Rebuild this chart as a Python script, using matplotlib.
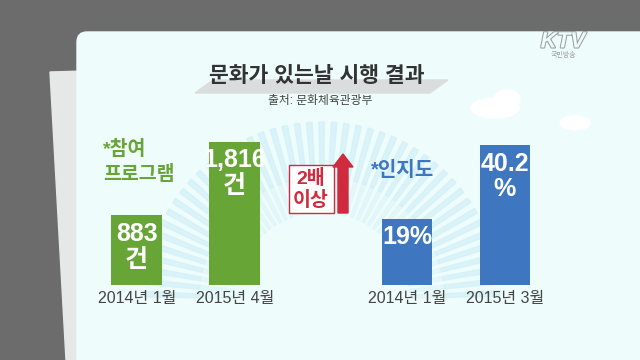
import numpy as np
import matplotlib.pyplot as plt
from matplotlib.patches import Polygon, FancyBboxPatch, Wedge, Ellipse
import matplotlib.patheffects as pe

plt.rcParams['font.family'] = ['Liberation Sans', 'Noto Sans CJK KR']

# 데이터
title = '문화가 있는날 시행 결과'
source = '출처: 문화체육관광부'

prog_labels = ['2014년 1월', '2015년 4월']
prog_values = [883, 1816]
prog_text = ['883\n건', '1,816\n건']

aware_labels = ['2014년 1월', '2015년 3월']
aware_values = [19, 40.2]
aware_text = ['19%', '40.2\n%']

green = '#67a536'
blue = '#3e76c0'
red = '#cf2a3e'

fig = plt.figure(figsize=(6.4, 3.6), dpi=100)

# 배경 (픽셀 좌표)
bg = fig.add_axes([0, 0, 1, 1])
bg.set_xlim(0, 640)
bg.set_ylim(360, 0)
bg.axis('off')
bg.add_patch(plt.Rectangle((0, 0), 640, 360, color='#6c6c6c', zorder=0))
bg.add_patch(Polygon([(50, 72), (120, 70), (140, 360), (66, 360)], color='#e6e8e8', zorder=1))
bg.add_patch(FancyBboxPatch((77, 32), 600, 400, boxstyle='round,pad=0,rounding_size=10',
                            color='#eefcfc', zorder=2))

# 햇살 무늬 (y축이 뒤집혀 있으므로 180~360도가 위쪽)
cx, cy = 322, 300
for i in range(45):
    a0 = 181 + i * 4
    bg.add_patch(Wedge((cx, cy), 178, a0, a0 + 1.8, width=55, color='#d3f1f8',
                       alpha=0.75, zorder=3))
    bg.add_patch(Wedge((cx, cy), 123, a0, a0 + 1.8, width=35, color='#d3f1f8',
                       alpha=0.35, zorder=3))

# 구름
for (x, y, w, h) in [(495, 108, 48, 20), (507, 99, 26, 18), (575, 123, 30, 14)]:
    bg.add_patch(Ellipse((x, y), w, h, color='white', zorder=3))

# KTV 로고
bg.text(563, 42, 'KTV', fontsize=16, style='italic', fontweight='bold', color='#eefcfc',
        ha='center', va='center', zorder=5,
        path_effects=[pe.withStroke(linewidth=1.5, foreground='#9aa0a0')])
bg.text(563, 56, '국민방송', fontsize=5, color='#9aa0a0', ha='center', va='center', zorder=5)

# 제목
bg.add_patch(Polygon([(195, 93), (430, 93), (448, 80), (213, 80)], color='#dadddd', zorder=4))
bg.text(317, 77, title, fontsize=15.5, fontweight='bold', color='#333333',
        ha='center', va='center', zorder=5)
bg.text(320, 101, source, fontsize=8.5, color='#444444', ha='center', va='center', zorder=5)

# 그룹 제목
bg.text(103, 162, '*참여\n프로그램', fontsize=14, fontweight='bold', color=green,
        ha='left', va='center', linespacing=1.4, zorder=5)
bg.text(371, 170, '*인지도', fontsize=14.5, fontweight='bold', color=blue,
        ha='left', va='center', zorder=5)

# 2배 이상
bg.add_patch(plt.Rectangle((289, 165), 45, 48, facecolor='white', edgecolor=red, lw=1, zorder=5))
bg.text(311, 189, '2배\n이상', fontsize=14, fontweight='bold', color=red,
        ha='center', va='center', linespacing=1.2, zorder=6)
bg.add_patch(Polygon([(338, 213), (338, 167), (333, 167), (343, 154), (353, 167), (348, 167),
                      (348, 213)], color=red, zorder=5))


def bars(rect, labels, values, texts, color, ymax, fs):
    ax = fig.add_axes(rect)
    ax.set_facecolor('none')
    b = ax.bar(range(len(values)), values, width=0.52, color=color, zorder=3)
    ax.set_xlim(-0.5, len(values) - 0.5)
    ax.set_ylim(0, ymax)
    ax.set_xticks(range(len(values)))
    ax.set_xticklabels(labels, fontsize=11.5, color='#444444')
    ax.tick_params(length=0, pad=4)
    ax.set_yticks([])
    for s in ax.spines.values():
        s.set_visible(False)
    for rect_, v, t in zip(b, values, texts):
        txt = ax.text(rect_.get_x() + rect_.get_width() / 2, v - ymax * 0.04, t,
                      fontsize=fs, fontweight='bold', color='white', ha='center', va='top',
                      linespacing=1.1, zorder=4)
        txt.set_clip_path(rect_)
    return ax


# 참여 프로그램 막대
bars([87.7 / 640, (360 - 285) / 360, 196 / 640, 160 / 360],
     prog_labels, prog_values, prog_text, green, 2025, 18)
# 인지도 막대
bars([358 / 640, (360 - 285) / 360, 196 / 640, 160 / 360],
     aware_labels, aware_values, aware_text, blue, 46, 18)

fig.savefig('out.png', dpi=100)
